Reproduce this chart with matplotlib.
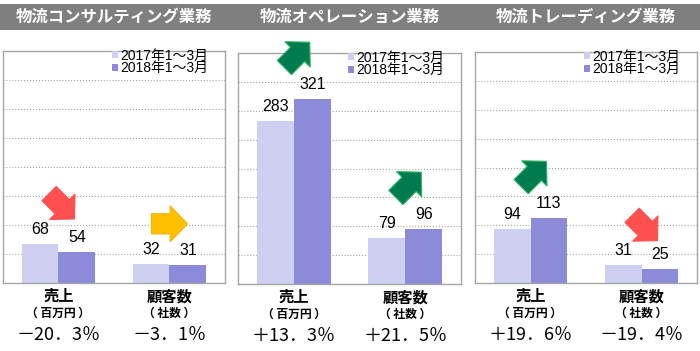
import numpy as np
import matplotlib
matplotlib.use('Agg')
import matplotlib.pyplot as plt
from matplotlib.patches import Patch, Polygon, Rectangle
from matplotlib.transforms import Affine2D, ScaledTranslation

# =====================================
# Data
# =====================================
titles = ['物流コンサルティング業務', '物流オペレーション業務', '物流トレーディング業務']
categories = ['売上', '顧客数']
units = ['（ 百万円 ）', '（ 社数 ）']
series_names = ['2017年1～3月', '2018年1～3月']
values_2017 = [[68, 32], [283, 79], [94, 31]]
values_2018 = [[54, 31], [321, 96], [113, 25]]
changes = [[-20.3, -3.1], [13.3, 21.5], [19.6, -19.4]]
trends = [['down', 'flat'], ['up', 'up'], ['up', 'down']]

# =====================================
# Style
# =====================================
JP = ['Noto Sans CJK JP', 'DejaVu Sans']
NUM = ['Liberation Sans', 'Noto Sans CJK JP']
c_light = '#CFCFF2'
c_dark = '#8B8BD9'
arrow_style = {
    'down': dict(angle=-45, face='#FF5050', edge='#FF5050'),
    'up': dict(angle=45, face='#007A4F', edge='#2DB55D'),
    'flat': dict(angle=0, face='#FFC000', edge='#F5B400'),
}

W, H = 700, 351
fig = plt.figure(figsize=(W / 100, H / 100), dpi=100)

# gray title band
fig.patches.append(Rectangle((0, 1 - 30 / H), 1, 26 / H, transform=fig.transFigure,
                             facecolor='#7F7F7F', edgecolor='none', zorder=0))

# axes boxes in pixels: left, right, top, bottom
boxes = [(3, 225, 51, 283), (238, 461, 53, 284), (475, 697, 52, 283)]

# block arrow shape (pointing right)
base = np.array([[-0.5, -0.28], [0.02, -0.28], [0.02, -0.5], [0.5, 0.0],
                 [0.02, 0.5], [0.02, 0.28], [-0.5, 0.28]])


def draw_arrow(ax, x, y, kind, size_px):
    st = arrow_style[kind]
    a = np.deg2rad(st['angle'])
    rot = np.array([[np.cos(a), -np.sin(a)], [np.sin(a), np.cos(a)]])
    pts = base @ rot.T
    mn, mx = pts.min(axis=0), pts.max(axis=0)
    pts = (pts - (mn + mx) / 2) / (mx - mn).max()
    trans = (Affine2D().scale(size_px / 100) + fig.dpi_scale_trans
             + ScaledTranslation(x, y, ax.transData))
    poly = Polygon(pts, closed=True, transform=trans, facecolor=st['face'],
                   edgecolor=st['edge'], linewidth=0.8, clip_on=False, zorder=5)
    ax.add_patch(poly)


def fmt_change(v):
    sign = '＋' if v > 0 else '－'
    return sign + f'{abs(v):.1f}'.replace('.', '．') + '％'


x = np.arange(len(categories))
bw = 0.333

for p, (l, r, t, b) in enumerate(boxes):
    ax = fig.add_axes([l / W, 1 - b / H, (r - l) / W, (b - t) / H])
    ax.set_xlim(-0.5, 1.5)
    ax.set_ylim(0, 400)

    b1 = ax.bar(x - bw / 2, values_2017[p], width=bw, color=c_light, zorder=2)
    b2 = ax.bar(x + bw / 2, values_2018[p], width=bw, color=c_dark, zorder=2)

    for bars in (b1, b2):
        for rect in bars:
            ax.annotate(f'{rect.get_height():.0f}',
                        (rect.get_x() + rect.get_width() / 2, rect.get_height()),
                        xytext=(0, 5), textcoords='offset points',
                        ha='center', va='bottom', fontsize=11.5, family=NUM)

    for i in range(len(categories)):
        top = max(values_2017[p][i], values_2018[p][i])
        size = 36 if trends[p][i] == 'flat' else 33
        draw_arrow(ax, x[i], top + 70, trends[p][i], size)

        ax.annotate(categories[i], (x[i], 0), xycoords=('data', 'axes fraction'),
                    xytext=(0, -9.5), textcoords='offset points', ha='center',
                    va='center', fontsize=11, fontweight='bold', family=JP)
        ax.annotate(units[i], (x[i], 0), xycoords=('data', 'axes fraction'),
                    xytext=(0, -21.5), textcoords='offset points', ha='center',
                    va='center', fontsize=8.5, fontweight='bold', family=JP)
        ax.annotate(fmt_change(changes[p][i]), (x[i], 0),
                    xycoords=('data', 'axes fraction'),
                    xytext=(0, -37.5), textcoords='offset points', ha='center',
                    va='center', fontsize=13, family=JP)

    ax.set_yticks(np.arange(0, 401, 50))
    ax.set_xticks([])
    ax.tick_params(length=0, labelleft=False)
    ax.yaxis.grid(True, linestyle=':', color='#A6A6A6', linewidth=0.8)
    ax.set_axisbelow(True)
    for s in ax.spines.values():
        s.set_color('#A6A6A6')
        s.set_linewidth(1.0)

    handles = [Patch(facecolor=c_light, edgecolor='none'),
               Patch(facecolor=c_dark, edgecolor='none')]
    ax.legend(handles, series_names, loc='upper right', bbox_to_anchor=(0.925, 1.01),
              frameon=False, prop={'family': NUM, 'size': 10}, handlelength=0.45,
              handleheight=0.45, handletextpad=0.15, labelspacing=-0.1,
              borderpad=0, borderaxespad=0)

    fig.text(((l + r) / 2) / W, 1 - 17 / H, titles[p], ha='center', va='center',
             color='white', fontsize=11.8, fontweight='bold', family=JP)

plt.savefig('out.png', dpi=100)
